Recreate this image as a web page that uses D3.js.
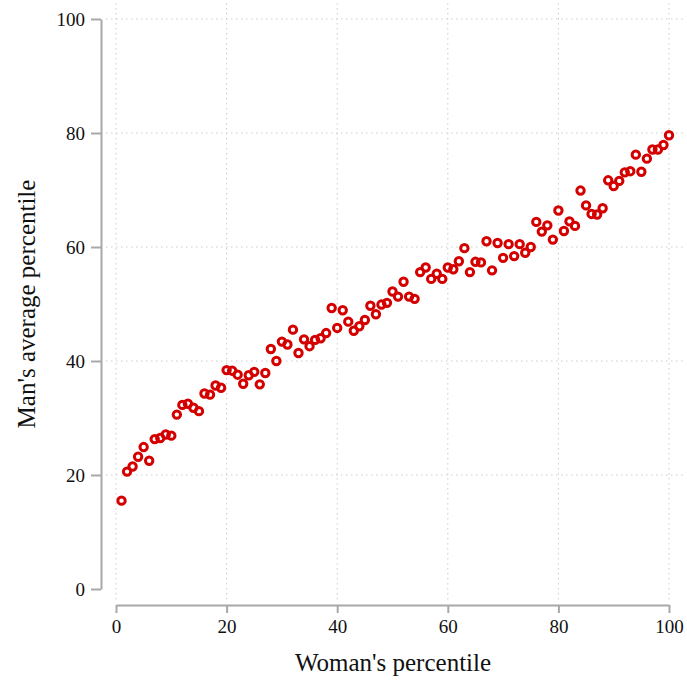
<!DOCTYPE html>
<html>
<head>
<meta charset="utf-8">
<script src="https://cdn.jsdelivr.net/npm/d3@7"></script>
<style>
    body { margin: 0; background: #fff; }
    text { font-family: "Liberation Serif", "DejaVu Serif", serif; fill: #111; }
    .tick-label { font-size: 19px; }
    .label { font-size: 25px; }
</style>
</head>
<body>
<svg></svg>
<script>
// woman's percentile 1..100
var womanPct = d3.range(1, 101)

// man's average percentile
var manAvg = [
    15.5, 20.6, 21.5, 23.2, 24.9, 22.5, 26.3, 26.5, 27.1, 26.9,
    30.6, 32.3, 32.5, 31.8, 31.2, 34.3, 34.1, 35.7, 35.3, 38.4,
    38.3, 37.6, 36.0, 37.5, 38.1, 35.9, 37.9, 42.1, 40.0, 43.4,
    42.9, 45.5, 41.4, 43.8, 42.6, 43.7, 44.0, 44.9, 49.3, 45.8,
    48.9, 46.9, 45.3, 46.1, 47.2, 49.7, 48.2, 49.9, 50.2, 52.2,
    51.3, 53.9, 51.3, 50.9, 55.6, 56.4, 54.4, 55.3, 54.4, 56.4,
    56.1, 57.5, 59.8, 55.6, 57.4, 57.3, 61.0, 55.9, 60.7, 58.1,
    60.5, 58.4, 60.5, 59.0, 60.0, 64.4, 62.7, 63.8, 61.3, 66.4,
    62.8, 64.5, 63.7, 69.9, 67.3, 65.8, 65.7, 66.8, 71.7, 70.7,
    71.6, 73.1, 73.3, 76.2, 73.2, 75.5, 77.1, 77.1, 77.9, 79.6
]

var xTicks = [0, 20, 40, 60, 80, 100]
var yTicks = [0, 20, 40, 60, 80, 100]

document.addEventListener('DOMContentLoaded', () => {
    var width = 687
    var height = 683

    var svg = d3.select('svg')
        .attr('width', width)
        .attr('height', height)

    var xScale = d3.scaleLinear()
        .domain([0, 100])
        .range([116, 669])

    var yScale = d3.scaleLinear()
        .domain([0, 100])
        .range([589, 19])

    // plot region is a bit wider than the data range
    var plotLeft = 106, plotRight = 685, plotTop = 3, plotBottom = 600

    // dotted grid
    svg.append('g')
        .selectAll('line')
        .data(xTicks)
        .enter()
        .append('line')
            .attr('x1', d => xScale(d))
            .attr('x2', d => xScale(d))
            .attr('y1', plotTop)
            .attr('y2', plotBottom)
            .attr('stroke', '#cccccc')
            .attr('stroke-width', 1)
            .attr('stroke-dasharray', '1.5,3.5')

    svg.append('g')
        .selectAll('line')
        .data(yTicks.filter(d => d > 0))
        .enter()
        .append('line')
            .attr('x1', plotLeft)
            .attr('x2', plotRight)
            .attr('y1', d => yScale(d))
            .attr('y2', d => yScale(d))
            .attr('stroke', '#cccccc')
            .attr('stroke-width', 1)
            .attr('stroke-dasharray', '1.5,3.5')

    // axes
    var yAxis = d3.axisLeft(yScale)
        .tickValues(yTicks)
        .tickSize(10)
        .tickPadding(6)
        .tickSizeOuter(0)

    var xAxis = d3.axisBottom(xScale)
        .tickValues(xTicks)
        .tickSize(8)
        .tickPadding(7)
        .tickSizeOuter(0)

    var gy = svg.append('g')
        .attr('transform', 'translate(101,0)')
        .call(yAxis)

    var gx = svg.append('g')
        .attr('transform', 'translate(0,605)')
        .call(xAxis)

    ;[gx, gy].forEach(g => {
        g.select('.domain').attr('stroke', '#a8a8a8').attr('stroke-width', 2)
        g.selectAll('.tick line').attr('stroke', '#a8a8a8').attr('stroke-width', 2)
        g.selectAll('.tick text')
            .classed('tick-label', true)
            .attr('font-family', null)
            .attr('font-size', null)
            .attr('fill', '#111')
    })

    // points
    svg.append('g')
        .selectAll('circle')
        .data(womanPct)
        .enter()
        .append('circle')
            .attr('cx', d => xScale(d))
            .attr('cy', (d, i) => yScale(manAvg[i]))
            .attr('r', 3.7)
            .attr('fill', 'none')
            .attr('stroke', '#d40000')
            .attr('stroke-width', 3)

    // X-axis label
    svg.append('text')
        .classed('label', true)
        .text("Woman's percentile")
        .attr('text-anchor', 'middle')
        .attr('x', 393)
        .attr('y', 671)

    // Y-axis label
    svg.append('text')
        .classed('label', true)
        .text("Man's average percentile")
        .attr('text-anchor', 'middle')
        .attr('transform', 'translate(35,304) rotate(-90)')
})
</script>
</body>
</html>
